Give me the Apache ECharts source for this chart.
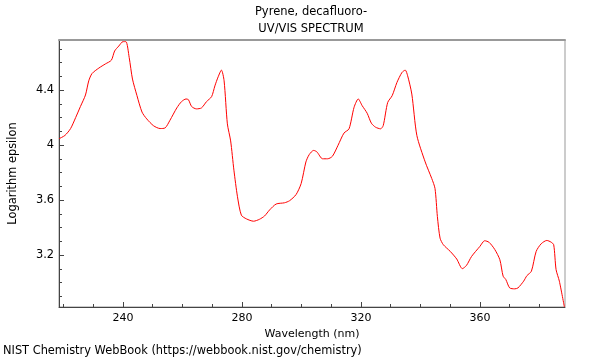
<!DOCTYPE html>
<html><head><meta charset="utf-8">
<script src="https://cdn.jsdelivr.net/npm/echarts@6/dist/echarts.min.js"></script>
<style>html,body{margin:0;padding:0;background:#fff}#c{width:600px;height:360px}</style>
</head><body><div id="c"></div>
<script>
const wavelengths = [218.5,220.5,222.4,224.1,225.7,227.4,228.5,229.6,231.9,234.1,236.1,237.2,238.6,240,241,242.1,243.2,244.7,246.4,248,250.3,252.5,254.2,255.8,258.1,259.7,261.2,262,263.1,264.7,266.4,268.1,269.8,270.9,272,273.1,274,275.1,276.2,277.3,278.5,279.8,281.5,283.9,285.9,287.6,289.3,291.5,294.3,296,298.2,299.9,301.5,302.6,304.1,305.2,307.1,308.8,310.4,312.3,314.3,316,317.7,319.1,320.4,322.1,323.5,324.9,326.6,327.5,329,330.5,332.1,333.8,334.9,335.7,337.1,338.8,341.6,343.8,344.9,345.7,346.6,347.7,350,352.2,354.1,355.5,357.2,360,361.6,363.1,365,366.7,367.8,368.7,370,371.7,372.8,374.7,375.8,377.3,378.9,380.6,382.5,383.9,384.8,385.6,386.7,388.4];
const logEpsilon = [4.046,4.07,4.12,4.20,4.28,4.364,4.467,4.52,4.56,4.59,4.617,4.684,4.72,4.752,4.752,4.636,4.48,4.36,4.24,4.19,4.14,4.12,4.125,4.18,4.27,4.316,4.335,4.33,4.28,4.263,4.27,4.316,4.352,4.43,4.496,4.545,4.467,4.154,4.03,3.817,3.624,3.49,3.463,3.446,3.46,3.484,3.528,3.571,3.58,3.595,3.64,3.72,3.877,3.93,3.961,3.95,3.90,3.90,3.918,3.998,4.087,4.118,4.275,4.335,4.287,4.231,4.159,4.13,4.118,4.142,4.31,4.359,4.455,4.528,4.545,4.504,4.371,4.07,3.877,3.757,3.684,3.48,3.323,3.275,3.227,3.171,3.101,3.125,3.19,3.263,3.304,3.292,3.24,3.166,3.046,3.022,2.961,2.954,2.961,3.01,3.05,3.082,3.226,3.282,3.306,3.294,3.275,3.094,3.01,2.822];
const xMajorTicks = [240,280,320,360];
const xMinorTicks = [220,230,250,260,270,290,300,310,330,340,350,370,380];
const yMajorTicks = [3.2,3.6,4,4.4];
const yMinorTicks = [2.9,3.0,3.1,3.3,3.4,3.5,3.7,3.8,3.9,4.1,4.2,4.3,4.5,4.6,4.7];
const titleText = 'Pyrene, decafluoro-\nUV/VIS SPECTRUM';
const xName = 'Wavelength (nm)';
const yName = 'Logarithm epsilon';
const footer = 'NIST Chemistry WebBook (https://webbook.nist.gov/chemistry)';

const X_MIN = 218.5, X_MAX = 388.6, Y_MIN = 2.822, Y_MAX = 4.764;
const FONT = 'DejaVu Sans';
const chart = echarts.init(document.getElementById('c'), null, {renderer:'canvas'});
const axisLineStyle = {color:'#444', width:1};
const baseX = {type:'value', min:X_MIN, max:X_MAX, splitLine:{show:false}, gridIndex:0};
const baseY = {type:'value', min:Y_MIN, max:Y_MAX, splitLine:{show:false}, gridIndex:0};
chart.setOption({
  animation:false,
  title:{text:titleText, left:311, top:4, textAlign:'center', padding:0,
    textStyle:{fontFamily:FONT, fontSize:11.5, fontWeight:'normal', color:'#000', lineHeight:17}},
  grid:{left:57, right:35, top:40, bottom:53, show:true, borderColor:'#999', borderWidth:1, backgroundColor:'transparent'},
  xAxis:[
    Object.assign({}, baseX, {
      position:'bottom', offset:0,
      name:xName, nameLocation:'middle', nameGap:18,
      nameTextStyle:{fontFamily:FONT, fontSize:11, color:'#000'},
      axisLine:{show:true, lineStyle:axisLineStyle},
      axisTick:{show:true, inside:true, length:5, lineStyle:axisLineStyle, customValues:xMajorTicks},
      axisLabel:{show:true, customValues:xMajorTicks, fontFamily:FONT, fontSize:11, color:'#000', margin:6}
    }),
    Object.assign({}, baseX, {
      position:'bottom', offset:0,
      axisLine:{show:false},
      axisTick:{show:true, inside:true, length:3, lineStyle:axisLineStyle, customValues:xMinorTicks},
      axisLabel:{show:false}
    }),
    Object.assign({}, baseX, {
      position:'top', offset:0,
      axisLine:{show:true, lineStyle:{color:'#999', width:2}},
      axisTick:{show:false}, axisLabel:{show:false}
    })
  ],
  yAxis:[
    Object.assign({}, baseY, {
      position:'left', offset:0,
      name:yName, nameLocation:'middle', nameGap:40, nameRotate:90,
      nameTextStyle:{fontFamily:FONT, fontSize:11.4, color:'#000'},
      axisLine:{show:true, lineStyle:axisLineStyle},
      axisTick:{show:true, inside:true, length:5, lineStyle:axisLineStyle, customValues:yMajorTicks},
      axisLabel:{show:true, customValues:yMajorTicks, fontFamily:FONT, fontSize:11.4, color:'#000', margin:5,
        formatter:v=>String(Math.round(v*10)/10)}
    }),
    Object.assign({}, baseY, {
      position:'left', offset:0,
      axisLine:{show:false},
      axisTick:{show:true, inside:true, length:3, lineStyle:axisLineStyle, customValues:yMinorTicks},
      axisLabel:{show:false}
    })
  ],
  graphic:[{type:'text', left:3, top:346, style:{text:footer, font:'11.4px "DejaVu Sans"', fill:'#000'}}],
  series:[{type:'line', xAxisIndex:0, yAxisIndex:0, showSymbol:false, smooth:0.25,
    data:wavelengths.map((w,i)=>[w, logEpsilon[i]]),
    lineStyle:{color:'#ff0000', width:1}, clip:true}]
});
</script></body></html>
